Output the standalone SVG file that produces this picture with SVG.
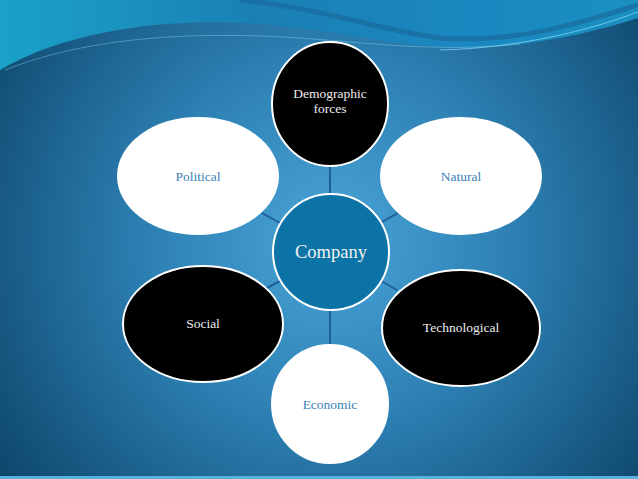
<svg xmlns="http://www.w3.org/2000/svg" width="638" height="479" viewBox="0 0 638 479">
<defs>
<radialGradient id="bg" cx="330" cy="240" r="420" gradientUnits="userSpaceOnUse">
<stop offset="0" stop-color="#4aa4d8"/>
<stop offset="0.45" stop-color="#2c7fb2"/>
<stop offset="1" stop-color="#0b4266"/>
</radialGradient>
<linearGradient id="wave" x1="0" y1="0" x2="638" y2="0" gradientUnits="userSpaceOnUse">
<stop offset="0" stop-color="#1aa2c8"/>
<stop offset="0.4" stop-color="#1a80b4"/>
<stop offset="0.75" stop-color="#1a88c0"/>
<stop offset="1" stop-color="#1a90c0"/>
</linearGradient>
<style>
.w{fill:#ffffff;stroke:#ffffff;stroke-width:2}
.b{fill:#000000;stroke:#ffffff;stroke-width:2}
.tw{font-family:"Liberation Serif","DejaVu Serif",serif;font-size:13.5px;fill:#3a7fba;text-anchor:middle}
.tb{font-family:"Liberation Serif","DejaVu Serif",serif;font-size:13.5px;fill:#ececec;text-anchor:middle}
.conn line{stroke:#1d5f9c;stroke-width:2}
</style>
</defs>
<rect width="638" height="479" fill="url(#bg)"/>
<path d="M0,0 L0,70 C60,35 140,22 220,22 C320,24 400,50 470,48 C540,46 600,30 638,18 L638,0 Z" fill="url(#wave)"/>
<path d="M240,0 C320,8 380,30 440,38 C520,44 590,20 638,5" fill="none" stroke="#1a6a9e" stroke-width="5" opacity="0.7"/>
<path d="M5,70 C80,40 180,30 300,38 C380,44 440,52 520,44" fill="none" stroke="#7cc8e4" stroke-width="0.7" opacity="0.7"/>
<path d="M440,50 C520,48 590,30 638,12" fill="none" stroke="#7cd6f0" stroke-width="1" opacity="0.8"/>
<rect x="0" y="476" width="638" height="3" fill="#5ab2dc"/>
<g class="conn" id="connectors">
<line x1="330" y1="166" x2="330" y2="194"/>
<line x1="330" y1="310" x2="330" y2="345"/>
<line x1="262" y1="213" x2="280" y2="223"/>
<line x1="398" y1="213" x2="380" y2="223"/>
<line x1="265" y1="289" x2="280" y2="281"/>
<line x1="397" y1="290" x2="381" y2="281"/>
</g>
<g id="company">
<circle cx="331" cy="252" r="58" fill="#0b73a6" stroke="#ffffff" stroke-width="2"/>
<text x="331" y="258" style="font-family:'Liberation Serif','DejaVu Serif',serif;font-size:18.5px;fill:#f2f2f2;text-anchor:middle">Company</text>
</g>
<g id="demographic">
<ellipse class="b" cx="330" cy="104" rx="58" ry="62"/>
<text class="tb" x="330" y="98">Demographic</text>
<text class="tb" x="330" y="113">forces</text>
</g>
<g id="political">
<ellipse class="w" cx="198" cy="176" rx="80" ry="58"/>
<text class="tw" x="198" y="181">Political</text>
</g>
<g id="natural">
<ellipse class="w" cx="461" cy="176" rx="80" ry="58"/>
<text class="tw" x="461" y="181">Natural</text>
</g>
<g id="social">
<ellipse class="b" cx="203" cy="324" rx="80" ry="58"/>
<text class="tb" x="203" y="328">Social</text>
</g>
<g id="technological">
<ellipse class="b" cx="461" cy="328" rx="79" ry="58"/>
<text class="tb" x="461" y="332">Technological</text>
</g>
<g id="economic">
<ellipse class="w" cx="330" cy="404" rx="58" ry="59"/>
<text class="tw" x="330" y="409">Economic</text>
</g>
</svg>
